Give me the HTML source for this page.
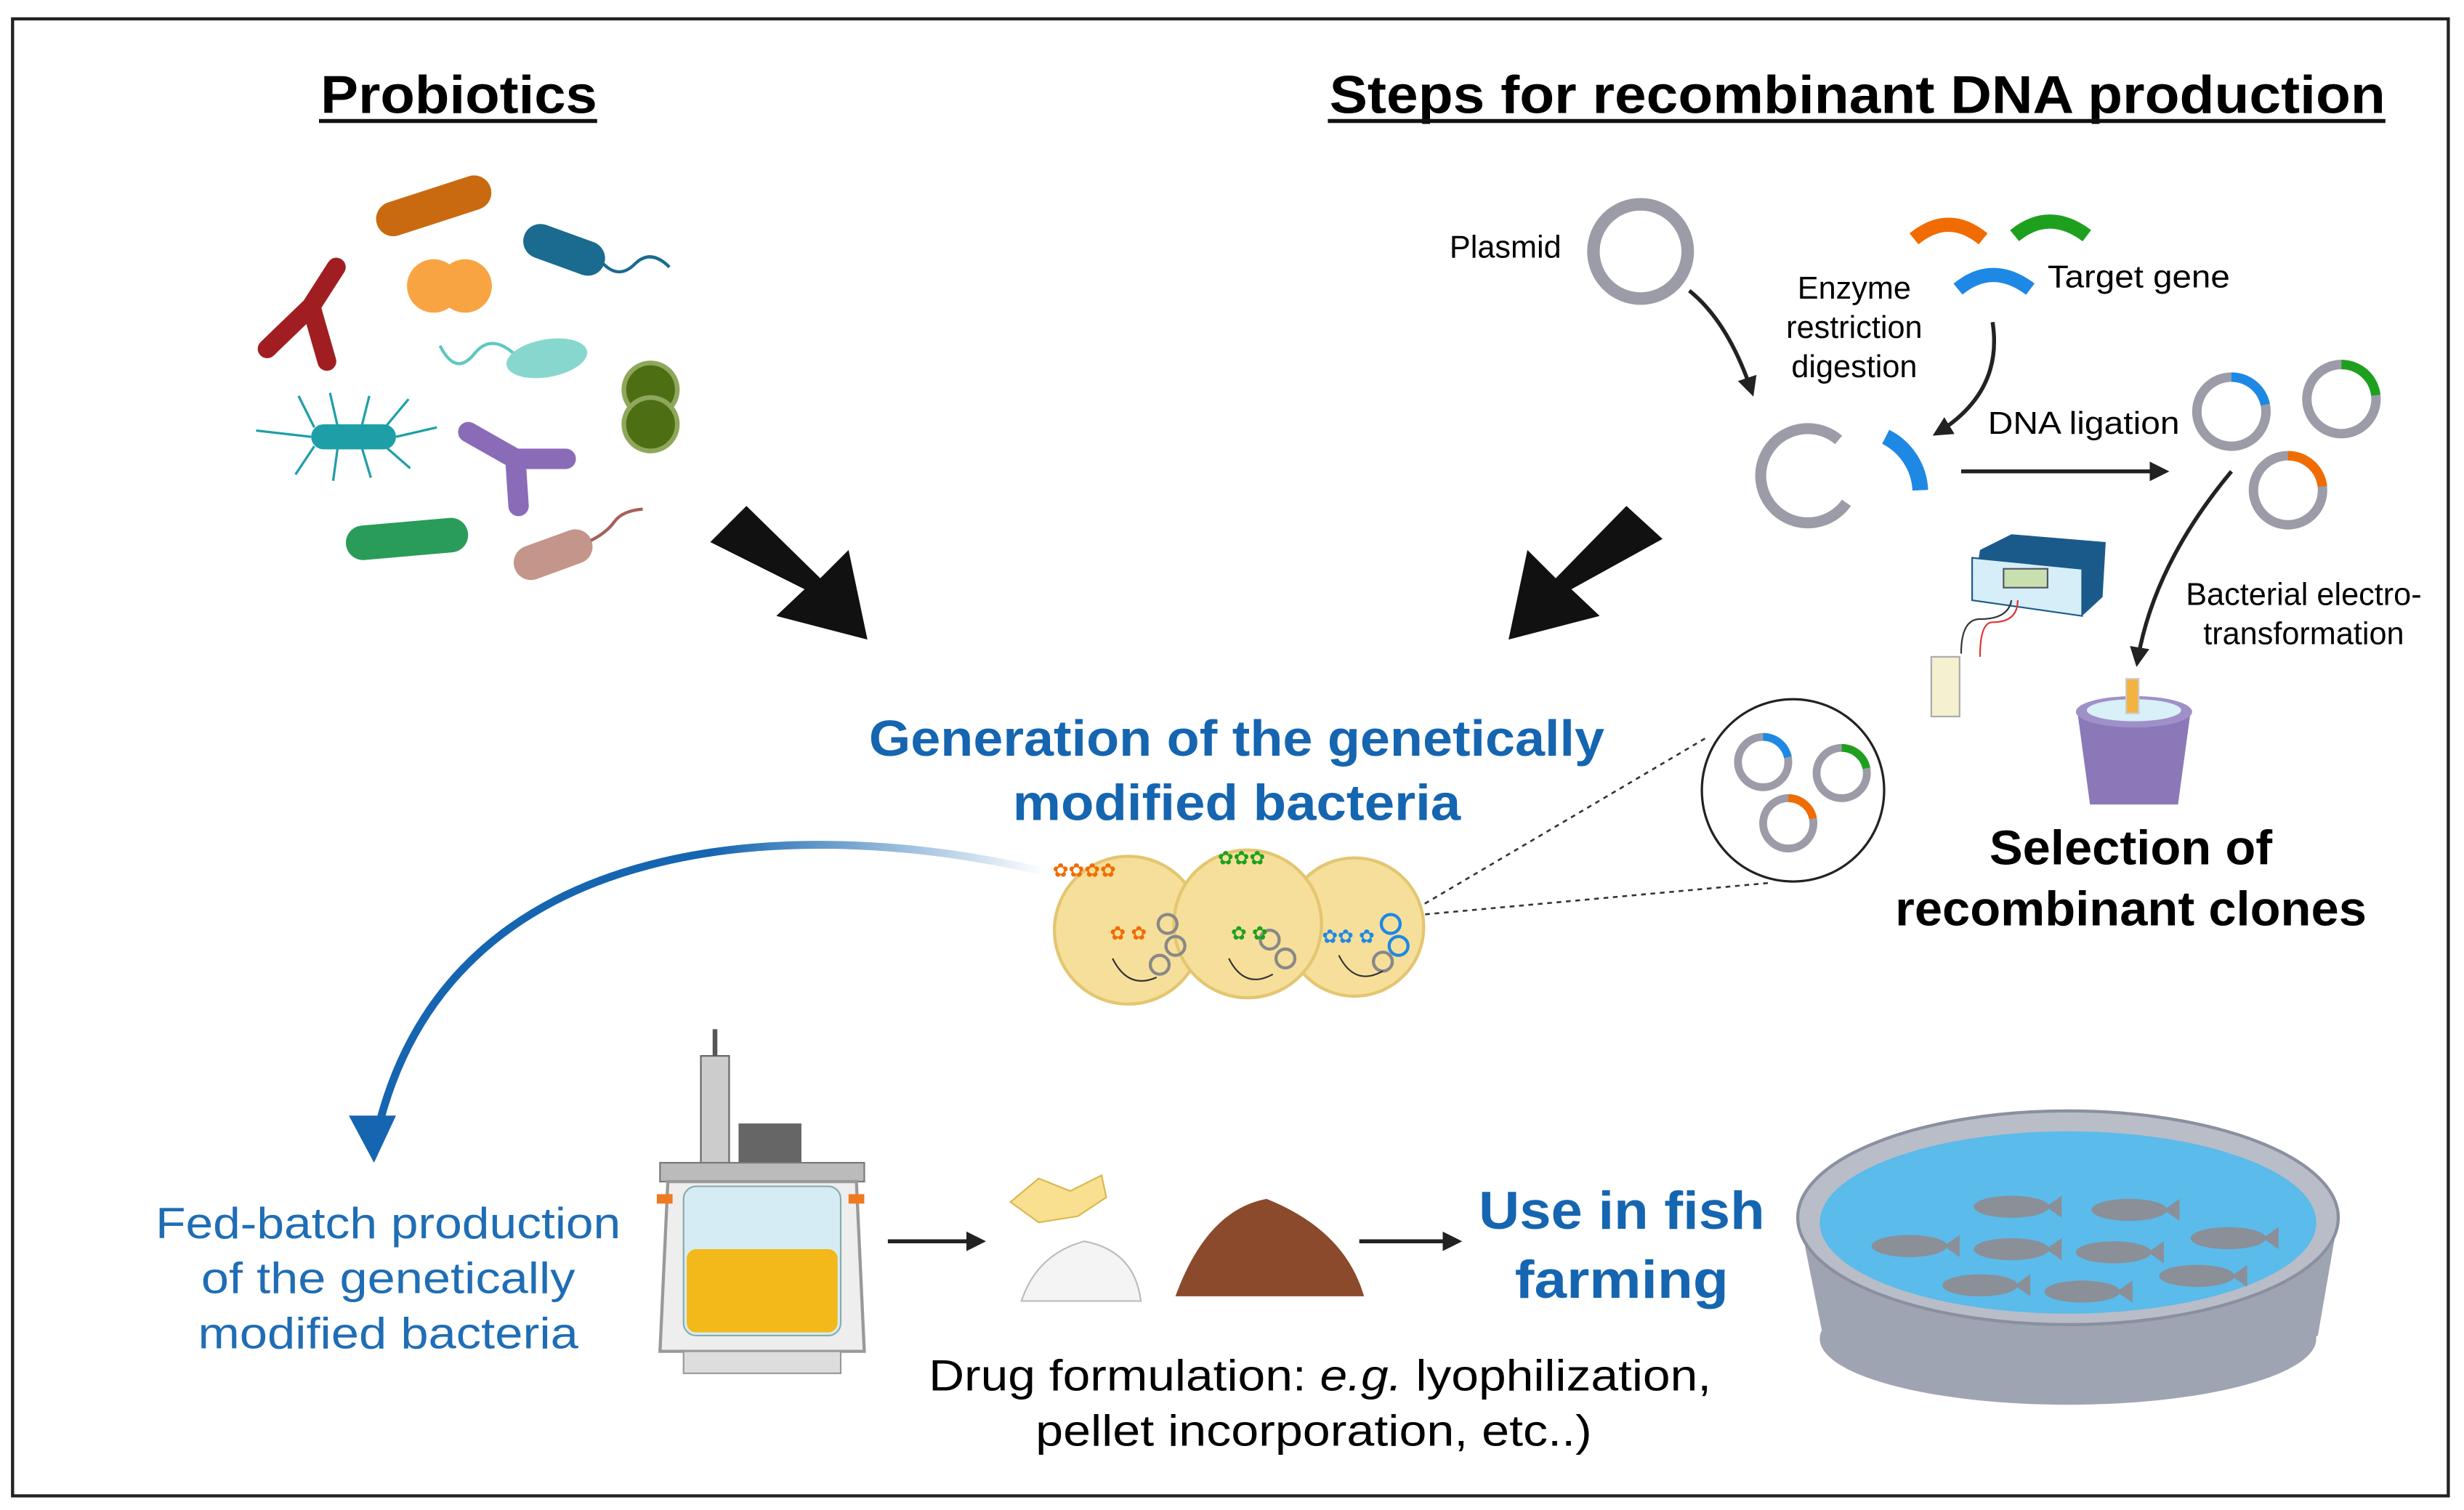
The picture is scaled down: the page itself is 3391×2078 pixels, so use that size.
<!DOCTYPE html>
<html><head><meta charset="utf-8"><style>
html,body{margin:0;padding:0;background:#fff}
svg{display:block}
text{font-family:"Liberation Sans",sans-serif}
</style></head><body>
<svg width="3391" height="2078" viewBox="0 0 1568 961" preserveAspectRatio="none" xmlns="http://www.w3.org/2000/svg">
<defs>
<marker id="ah" viewBox="0 0 10 10" refX="8" refY="5" markerWidth="5" markerHeight="5" orient="auto"><path d="M0,0 L10,5 L0,10 z" fill="#222"/></marker>
<linearGradient id="bg" x1="1" y1="0" x2="0" y2="0"><stop offset="0" stop-color="#1565b0" stop-opacity="0"/><stop offset="0.5" stop-color="#1565b0"/><stop offset="1" stop-color="#1565b0"/></linearGradient>
</defs>
<rect x="8" y="12" width="1550" height="940" fill="#fff" stroke="#222" stroke-width="2"/>
<text x="204" y="72" font-size="34" font-weight="bold" textLength="176" lengthAdjust="spacingAndGlyphs">Probiotics</text>
<line x1="203" y1="77" x2="380" y2="77" stroke="#111" stroke-width="2.5"/>
<text x="846" y="72" font-size="34" font-weight="bold" textLength="672" lengthAdjust="spacingAndGlyphs">Steps for recombinant DNA production</text>
<line x1="845" y1="77" x2="1518" y2="77" stroke="#111" stroke-width="2.5"/>

<!-- bacteria -->
<g>
<rect x="238" y="120" width="76" height="22" rx="11" fill="#c96a10" transform="rotate(-18 276 131)"/>
<circle cx="276" cy="182" r="17" fill="#f9a442"/><circle cx="296" cy="182" r="17" fill="#f9a442"/>
<rect x="332" y="148" width="54" height="22" rx="11" fill="#1a6b8f" transform="rotate(20 359 159)"/>
<path d="M384,168 q10,10 20,0 t22,2" stroke="#1a6b8f" stroke-width="2" fill="none"/>
<path d="M170,222 L198,195 L214,170 M198,195 L208,230" stroke="#a01e22" stroke-width="12" stroke-linecap="round" fill="none"/>
<path d="M280,220 q10,20 22,5 t30,5" stroke="#5fc7c0" stroke-width="2" fill="none"/>
<ellipse cx="348" cy="228" rx="26" ry="12" fill="#87d7cf" transform="rotate(-10 348 228)"/>
<circle cx="414" cy="248" r="17" fill="#4d6e12" stroke="#8fa75a" stroke-width="3"/><circle cx="414" cy="270" r="17" fill="#4d6e12" stroke="#8fa75a" stroke-width="3"/>
<g stroke="#1e9fa8" stroke-width="1.5" fill="none">
<path d="M200,272 l-10,-20 M215,272 l-5,-22 M230,272 l5,-20 M245,272 l15,-18 M200,284 l-12,18 M215,284 l-3,22 M230,284 l6,20 M245,284 l16,14 M198,278 l-35,-4 M252,278 l26,-6"/>
</g>
<rect x="198" y="270" width="54" height="16" rx="8" fill="#1e9fa8"/>
<path d="M298,275 L328,292 L360,292 M328,292 L330,322" stroke="#8a6bb8" stroke-width="13" stroke-linecap="round" fill="none"/>
<rect x="220" y="332" width="78" height="22" rx="11" fill="#2a9c59" transform="rotate(-5 259 343)"/>
<rect x="326" y="342" width="52" height="22" rx="11" fill="#c4958a" transform="rotate(-20 352 353)"/>
<path d="M376,344 q10,-5 15,-12 t18,-8" stroke="#a5605a" stroke-width="2" fill="none"/>
</g>

<!-- big arrows -->
<path d="M452,345 L475,322 L522,368 L540,350 L552,407 L494,392 L512,375 Z" fill="#111"/>
<path d="M1058,343 L1035,322 L990,368 L972,350 L960,407 L1018,392 L1000,375 Z" fill="#111"/>

<!-- plasmid steps -->
<text x="958" y="164" font-size="20" text-anchor="middle">Plasmid</text>
<circle cx="1044" cy="160" r="30" fill="none" stroke="#9c9ca8" stroke-width="8"/>
<path d="M1075,185 Q1100,205 1115,250" stroke="#222" stroke-width="2.5" fill="none" marker-end="url(#ah)"/>
<text x="1180" y="190" font-size="20" text-anchor="middle">Enzyme</text>
<text x="1180" y="215" font-size="20" text-anchor="middle">restriction</text>
<text x="1180" y="240" font-size="20" text-anchor="middle">digestion</text>
<path d="M1218,152 q22,-18 44,0" stroke="#f06c00" stroke-width="9" fill="none"/>
<path d="M1282,150 q22,-18 46,0" stroke="#1ea01e" stroke-width="9" fill="none"/>
<path d="M1246,184 q22,-18 46,0" stroke="#1e88e5" stroke-width="9" fill="none"/>
<text x="1303" y="183" font-size="20" textLength="116" lengthAdjust="spacingAndGlyphs">Target gene</text>
<path d="M1268,205 Q1275,250 1232,276" stroke="#222" stroke-width="2.5" fill="none" marker-end="url(#ah)"/>
<path d="M1170,280 A30,30 0 1,0 1175,320" stroke="#9c9ca8" stroke-width="7" fill="none"/>
<path d="M1200,278 A40,40 0 0,1 1222,312" stroke="#1e88e5" stroke-width="10" fill="none"/>
<text x="1326" y="276" font-size="20" text-anchor="middle" textLength="122" lengthAdjust="spacingAndGlyphs">DNA ligation</text>
<line x1="1248" y1="300" x2="1378" y2="300" stroke="#222" stroke-width="2.5" marker-end="url(#ah)"/>
<g fill="none" stroke-width="6">
<circle cx="1420" cy="262" r="22" stroke="#9c9ca8"/><circle cx="1420" cy="262" r="22" stroke="#1e88e5" stroke-dasharray="30 200" transform="rotate(-90 1420 262)"/>
<circle cx="1490" cy="254" r="22" stroke="#9c9ca8"/><circle cx="1490" cy="254" r="22" stroke="#1ea01e" stroke-dasharray="32 200" transform="rotate(-90 1490 254)"/>
<circle cx="1456" cy="312" r="22" stroke="#9c9ca8"/><circle cx="1456" cy="312" r="22" stroke="#f06c00" stroke-dasharray="32 200" transform="rotate(-90 1456 312)"/>
</g>
<path d="M1420,300 Q1370,360 1360,422" stroke="#222" stroke-width="2.5" fill="none" marker-end="url(#ah)"/>
<text x="1466" y="385" font-size="20" text-anchor="middle">Bacterial electro-</text>
<text x="1466" y="410" font-size="20" text-anchor="middle">transformation</text>
<!-- electroporator -->
<path d="M1260,350 L1280,340 L1340,345 L1338,380 L1325,392 L1255,382 Z" fill="#1a5a8a"/>
<path d="M1255,355 L1325,362 L1325,392 L1255,382 Z" fill="#d6eef8" stroke="#1a5a8a" stroke-width="1"/>
<rect x="1275" y="362" width="28" height="12" fill="#c8e0b0" stroke="#556"/>
<path d="M1280,382 q-2,12 -20,12 q-12,0 -12,22" stroke="#333" stroke-width="1" fill="none"/>
<path d="M1284,382 q0,14 -16,14 q-8,0 -8,22" stroke="#d33" stroke-width="1" fill="none"/>
<rect x="1229" y="418" width="18" height="38" fill="#f5f0d0" stroke="#aaa"/>
<!-- ice bucket -->
<path d="M1322,453 L1394,453 L1386,512 L1330,512 Z" fill="#8b78b8"/>
<ellipse cx="1358" cy="453" rx="37" ry="10" fill="#a090c8"/>
<ellipse cx="1358" cy="452" rx="30" ry="7" fill="#d8f0f8"/>
<rect x="1353" y="432" width="8" height="22" fill="#f2b340" stroke="#ccc"/>
<text x="1356" y="550" font-size="31" font-weight="bold" text-anchor="middle" textLength="180" lengthAdjust="spacingAndGlyphs">Selection of</text>
<text x="1356" y="589" font-size="31" font-weight="bold" text-anchor="middle" textLength="300" lengthAdjust="spacingAndGlyphs">recombinant clones</text>

<!-- zoom circle -->
<circle cx="1141" cy="503" r="58" fill="#fff" stroke="#222" stroke-width="1.5"/>
<g fill="none" stroke-width="5">
<circle cx="1122" cy="485" r="16" stroke="#9c9ca8"/><circle cx="1122" cy="485" r="16" stroke="#1e88e5" stroke-dasharray="22 200" transform="rotate(-90 1122 485)"/>
<circle cx="1172" cy="492" r="16" stroke="#9c9ca8"/><circle cx="1172" cy="492" r="16" stroke="#1ea01e" stroke-dasharray="22 200" transform="rotate(-90 1172 492)"/>
<circle cx="1138" cy="524" r="16" stroke="#9c9ca8"/><circle cx="1138" cy="524" r="16" stroke="#f06c00" stroke-dasharray="22 200" transform="rotate(-90 1138 524)"/>
</g>
<line x1="1085" y1="470" x2="895" y2="582" stroke="#333" stroke-dasharray="3 3" stroke-width="1.2"/>
<line x1="1125" y1="562" x2="895" y2="583" stroke="#333" stroke-dasharray="3 3" stroke-width="1.2"/>

<text x="787" y="481" font-size="32" font-weight="bold" fill="#1565b0" text-anchor="middle" textLength="468" lengthAdjust="spacingAndGlyphs">Generation of the genetically</text>
<text x="787" y="522" font-size="32" font-weight="bold" fill="#1565b0" text-anchor="middle" textLength="285" lengthAdjust="spacingAndGlyphs">modified bacteria</text>

<!-- cells -->
<g stroke="#e3c670" stroke-width="2" fill="#f6df9a">
<circle cx="718" cy="592" r="47"/><circle cx="862" cy="590" r="44"/><circle cx="794" cy="588" r="47"/>
</g>
<g fill="none" stroke-width="2">
<circle cx="743" cy="588" r="6" stroke="#888"/><circle cx="748" cy="602" r="6" stroke="#888"/><circle cx="738" cy="614" r="6" stroke="#888"/>
<circle cx="808" cy="598" r="6" stroke="#888"/><circle cx="818" cy="610" r="6" stroke="#888"/>
<circle cx="885" cy="588" r="6" stroke="#1e88e5"/><circle cx="890" cy="602" r="6" stroke="#1e88e5"/><circle cx="880" cy="612" r="6" stroke="#888"/>
<path d="M708,610 q10,20 28,12 M782,610 q10,20 28,10 M852,608 q10,20 28,10" stroke="#333" stroke-width="1"/>
</g>
<g font-size="12" text-anchor="middle"><text x="690" y="558" fill="#f06c00">✿✿✿✿</text><text x="790" y="550" fill="#1ea01e">✿✿✿</text>
<text x="718" y="598" fill="#f06c00">✿ ✿</text><text x="795" y="598" fill="#1ea01e">✿ ✿</text><text x="858" y="600" fill="#1e88e5">✿✿ ✿</text></g>

<!-- blue curve -->
<path d="M665,555 C520,520 280,520 238,730" stroke="url(#bg)" stroke-width="5" fill="none"/>
<path d="M222,710 L238,740 L252,710 Z" fill="#1565b0"/>
<text x="247" y="788" font-size="28" fill="#1f6db5" text-anchor="middle" textLength="296" lengthAdjust="spacingAndGlyphs">Fed-batch production</text>
<text x="247" y="823" font-size="28" fill="#1f6db5" text-anchor="middle" textLength="238" lengthAdjust="spacingAndGlyphs">of the genetically</text>
<text x="247" y="858" font-size="28" fill="#1f6db5" text-anchor="middle" textLength="242" lengthAdjust="spacingAndGlyphs">modified bacteria</text>

<!-- bioreactor -->
<g>
<rect x="446" y="672" width="18" height="70" fill="#ccc" stroke="#666"/>
<line x1="455" y1="655" x2="455" y2="672" stroke="#555" stroke-width="3"/>
<rect x="470" y="715" width="40" height="28" fill="#666"/>
<rect x="420" y="740" width="130" height="12" fill="#bbb" stroke="#777"/>
<path d="M425,752 L545,752 L550,860 L420,860 Z" fill="#eee" stroke="#999" stroke-width="2"/>
<rect x="435" y="755" width="100" height="95" rx="8" fill="#d6ecf5" stroke="#8aa"/>
<rect x="437" y="795" width="96" height="53" rx="6" fill="#f3b81a"/>
<rect x="435" y="860" width="100" height="14" fill="#ddd" stroke="#999"/>
<rect x="418" y="760" width="10" height="6" fill="#f07a20"/><rect x="540" y="760" width="10" height="6" fill="#f07a20"/>
</g>
<line x1="565" y1="790" x2="625" y2="790" stroke="#222" stroke-width="2.5" marker-end="url(#ah)"/>
<!-- powder/pellets -->
<path d="M643,765 l18,-15 l20,8 l20,-10 l3,14 l-18,12 l-25,4 z" fill="#f8e090" stroke="#d8b850"/>
<path d="M650,828 q10,-30 40,-38 q32,6 36,38 z" fill="#f4f4f4" stroke="#bbb"/>
<path d="M748,825 q20,-55 58,-62 q50,20 62,62 z" fill="#8b4a2b"/>
<line x1="865" y1="790" x2="928" y2="790" stroke="#222" stroke-width="2.5" marker-end="url(#ah)"/>
<text x="840" y="885" font-size="28" text-anchor="middle" textLength="498" lengthAdjust="spacingAndGlyphs">Drug formulation: <tspan font-style="italic">e.g.</tspan> lyophilization,</text>
<text x="836" y="920" font-size="28" text-anchor="middle" textLength="354" lengthAdjust="spacingAndGlyphs">pellet incorporation, etc..)</text>
<text x="1032" y="782" font-size="34" font-weight="bold" fill="#1565b0" text-anchor="middle" textLength="182" lengthAdjust="spacingAndGlyphs">Use in fish</text>
<text x="1032" y="826" font-size="34" font-weight="bold" fill="#1565b0" text-anchor="middle" textLength="136" lengthAdjust="spacingAndGlyphs">farming</text>

<!-- tank -->
<path d="M1145,775 L1160,850 Q1316,935 1475,850 L1488,775 Z" fill="#9ea4b2"/>
<ellipse cx="1316" cy="852" rx="158" ry="42" fill="#9ea4b2"/>
<ellipse cx="1316" cy="775" rx="172" ry="68" fill="#b8bdc8" stroke="#8a90a0" stroke-width="2"/>
<ellipse cx="1316" cy="778" rx="158" ry="58" fill="#5bbbea"/>
<g fill="#8a8f98">
<ellipse cx="1280" cy="768" rx="24" ry="7"/><ellipse cx="1355" cy="770" rx="24" ry="7"/>
<ellipse cx="1215" cy="793" rx="24" ry="7"/><ellipse cx="1280" cy="795" rx="24" ry="7"/><ellipse cx="1345" cy="797" rx="24" ry="7"/><ellipse cx="1418" cy="788" rx="24" ry="7"/>
<ellipse cx="1260" cy="818" rx="24" ry="7"/><ellipse cx="1325" cy="822" rx="24" ry="7"/><ellipse cx="1398" cy="812" rx="24" ry="7"/>
<path d="M1302,768 l10,-7 v14 z M1377,770 l10,-7 v14 z M1237,793 l10,-7 v14 z M1302,795 l10,-7 v14 z M1367,797 l10,-7 v14 z M1440,788 l10,-7 v14 z M1282,818 l10,-7 v14 z M1347,822 l10,-7 v14 z M1420,812 l10,-7 v14 z"/>
</g>
</svg>
</body></html>
